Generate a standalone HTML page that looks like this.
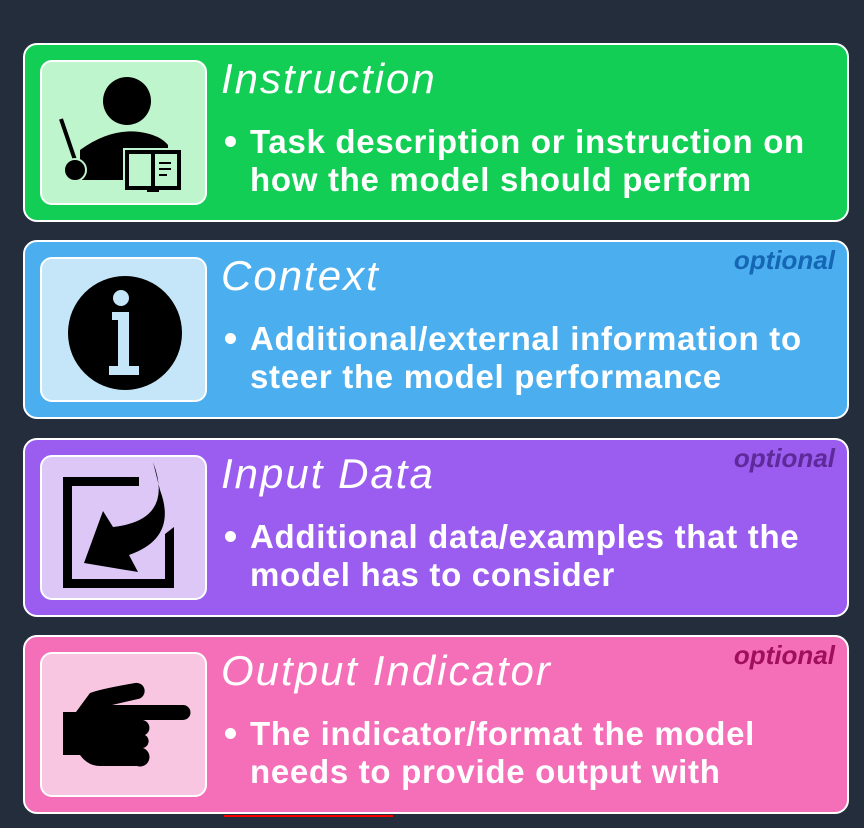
<!DOCTYPE html>
<html><head><meta charset="utf-8"><style>
body{margin:0;width:864px;height:828px;background:#232d3c;position:relative;overflow:hidden;font-family:"Liberation Sans",sans-serif}
.card{position:absolute;left:23px;width:822px;height:175px;border:2px solid #fff;border-radius:14px;box-sizing:content-box}
.ib{position:absolute;left:15px;top:15px;width:163px;height:141px;border:2px solid #fff;border-radius:12px}
.t{position:absolute;left:196px;top:10px;color:#fff;font-style:italic;font-size:42px;letter-spacing:2px;white-space:nowrap}
.b{position:absolute;left:197px;top:78px;color:#fff;font-weight:bold;font-size:33px;letter-spacing:0.7px;line-height:38px;white-space:nowrap}
.b .d{display:inline-block;width:11px;height:11px;border-radius:50%;background:#fff;margin:0 14px 5px 3px;vertical-align:middle}
.b .l2{padding-left:28px}
.o{position:absolute;right:12px;top:3px;font-style:italic;font-weight:bold;font-size:26px}
svg{position:absolute;left:0;top:0}
</style></head><body>

<div class="card" style="top:43px;background:#12ce55">
 <div class="ib" style="background:#bff5cd"></div>
 <div class="t">Instruction</div>
 <div class="b"><span class="d"></span>Task description or instruction on<br><span class="l2">how the model should perform</span></div>
</div>

<div class="card" style="top:240px;background:#4aaeef">
 <div class="ib" style="background:#c5e6f9"></div>
 <div class="t">Context</div>
 <div class="o" style="color:#1566b5">optional</div>
 <div class="b"><span class="d"></span>Additional/external information to<br><span class="l2">steer the model performance</span></div>
</div>

<div class="card" style="top:438px;background:#9b5cf0">
 <div class="ib" style="background:#dcc7f7"></div>
 <div class="t">Input Data</div>
 <div class="o" style="color:#5e2a9a">optional</div>
 <div class="b"><span class="d"></span>Additional data/examples that the<br><span class="l2">model has to consider</span></div>
</div>

<div class="card" style="top:635px;background:#f46eb8">
 <div class="ib" style="background:#f9c6e1"></div>
 <div class="t">Output Indicator</div>
 <div class="o" style="color:#a0105a">optional</div>
 <div class="b"><span class="d"></span>The indicator/format the model<br><span class="l2">needs to provide output with</span></div>
</div>

<div style="position:absolute;left:224px;top:815px;width:169px;height:2px;background:#f00"></div>

<svg width="864" height="828">
 <circle cx="127" cy="101" r="24" fill="#000"/>
 <path d="M80 180 L80 150 Q110 128 140 132 Q160 135 168 145 L168 180 Z" fill="#000"/>
 <line x1="61" y1="119" x2="75" y2="160" stroke="#000" stroke-width="4"/>
 <circle cx="75" cy="170" r="11" fill="#000" stroke="#bff5cd" stroke-width="2"/>
 <rect x="123" y="148" width="60" height="44" fill="#bff5cd"/>
 <rect x="127" y="152" width="52" height="36" fill="none" stroke="#000" stroke-width="4"/>
 <line x1="153" y1="152" x2="153" y2="188" stroke="#000" stroke-width="4"/>
 <rect x="147" y="188" width="12" height="4" fill="#000"/>
 <line x1="159" y1="163" x2="171" y2="163" stroke="#000" stroke-width="2"/>
 <line x1="159" y1="169" x2="171" y2="169" stroke="#000" stroke-width="2"/>
 <line x1="159" y1="175" x2="167" y2="175" stroke="#000" stroke-width="2"/>
 <circle cx="125" cy="333" r="57" fill="#000"/>
 <circle cx="121" cy="298" r="8" fill="#c5e6f9"/>
 <path d="M112 312 L129 312 L129 366 L139 366 L139 375 L109 375 L109 366 L118 366 L118 320 L112 320 Z" fill="#c5e6f9"/>
 <path d="M63 477 H139 V486 H72 V579 H165 V534 L174 527 V588 H63 Z" fill="#000"/>
 <path d="M153 462 Q175 520 113 527 L103 511 L84 563 L138 572 L129 555 Q178 538 160 490 Z" fill="#000"/>
 <path d="M63 712 H76 L90 693 Q100 689 135 683 A8 8 0 0 1 138 699 L112 705 H183 A7.5 7.5 0 0 1 183 720 H143 A8 8 0 0 1 145 735 A7 7 0 0 1 143 748 A7 7 0 0 1 137 766 H100 Q88 766 80 755 H63 Z" fill="#000"/>
</svg>
</body></html>
